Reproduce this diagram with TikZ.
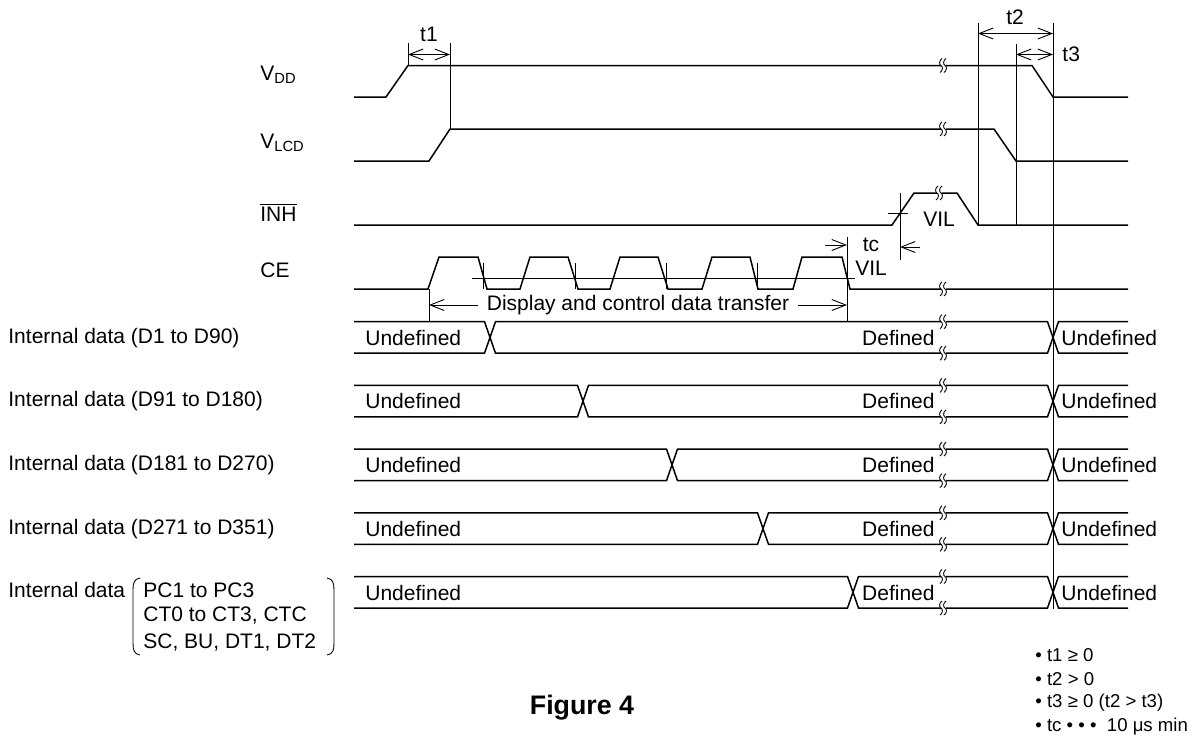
\documentclass[tikz,border=0pt]{standalone}
\usepackage{fontspec}
\setmainfont{Liberation Sans}
\usetikzlibrary{arrows.meta}
\tikzset{
    sig/.style={line width=0.75pt},
    dim/.style={line width=0.45pt},
    barb/.tip={Straight Barb[length=7pt,width=5.5pt]},
    dimarr/.style={dim, barb-barb},
    lbl/.style={inner sep=0pt, font=\fontsize{10.5}{12.6}\selectfont},
    note/.style={inner sep=0pt, anchor=west, font=\fontsize{9.3}{11}\selectfont},
    brk/.pic={
      \fill[white] (-2.5,-1.6) rectangle (2.5,1.6);
      \draw[dim] (-1,-7) .. controls (-4,-5) and (-4,-1) .. (-2,0) .. controls (0,1) and (0,5) .. (-3,7);
      \draw[dim] (3,-7) .. controls (0,-5) and (0,-1) .. (2,0) .. controls (4,1) and (4,5) .. (1,7);
    },
  }
\begin{document}
\begin{tikzpicture}[x=0.5pt,y=-0.5pt]
          %1 unit = 1 pixel of the original, y going down
          \useasboundingbox (0,0) rectangle (1194,740);
          %signal names
          \node[lbl, anchor=west] (vdd) at (260,75) {V\textsubscript{DD}};
          \node[lbl, anchor=west] (vlcd) at (260,143) {V\textsubscript{LCD}};
          \node[lbl, anchor=west] (inh) at (260,212) {$\overline{\hbox{INH}}$};
          \node[lbl, anchor=west] (ce) at (260,270) {CE};

          %VDD
          \draw[sig] (354,97) -- (386,97) -- (408,65.5) -- (1032,65.5) -- (1053,97) -- (1128,97);
          \pic at (943,65.5) {brk};
          %VLCD
          \draw[sig] (354,161) -- (429,161) -- (450,129) -- (994,129) -- (1016,161) -- (1128,161);
          \pic at (943,129) {brk};
          %INH
          \draw[sig] (354,225) -- (892,225) -- (914,193) -- (957,193) -- (978,225) -- (1128,225);
          \pic at (939,193) {brk};
          %CE
          \draw[sig] (354,289) -- (428,289) -- (439,257) -- (478,257) -- (487,289)
                     -- (520,289) -- (530,257) -- (568,257) -- (578,289)
                     -- (610,289) -- (620,257) -- (658,257) -- (668,289)
                     -- (702,289) -- (712,257) -- (750,257) -- (758,289)
                     -- (793,289) -- (802,257) -- (842,257) -- (850,289) -- (1128,289);
          \pic at (943,289) {brk};
          %VIL on CE
          \draw[dim] (472,278) -- (855,278);
          \draw[dim] (483,263) -- (483,289) (575,263) -- (575,289) (666,263) -- (666,289) (757,263) -- (757,289);

          %t1
          \coordinate (t1a) at (408,54.5);
          \coordinate (t1b) at (450,54.5);
          \draw[dim] (408,43) -- (408,65.5);
          \draw[dim] (450,43) -- (450,129);
          \draw[dimarr] (t1a) -- (t1b);
          \node[lbl] (t1) at (429,34) {t1};
          %t2, t3
          \coordinate (t2a) at (978,33.5);
          \coordinate (t2b) at (1053,33.5);
          \coordinate (t3a) at (1016,54.5);
          \coordinate (t3b) at (1053,54.5);
          \draw[dim] (978,23) -- (978,225);
          \draw[dim] (1016,44) -- (1016,225);
          \draw[dim] (1053,23) -- (1053,609);
          \draw[dimarr] (t2a) -- (t2b);
          \draw[dimarr] (t3a) -- (t3b);
          \node[lbl] (t2) at (1015,17) {t2};
          \node[lbl, anchor=west] (t3) at (1062,54) {t3};

          %tc and VIL on INH
          \draw[dim] (888,213) -- (908,213);
          \draw[dim] (900,193) -- (900,260);
          \node[lbl] (vilinh) at (939,219) {VIL};
          \draw[dim] (847,237) -- (847,322);
          \draw[dim, -barb] (825,245) -- (847,245);
          \draw[dim, -barb] (920,247) -- (900,247);
          \node[lbl] (tc) at (871,245) {tc};
          \node[lbl] (vilce) at (871,268) {VIL};

          %data transfer
          \draw[dim] (429,289) -- (429,322);
          \draw[dimarr] (429,305) -- node[lbl, fill=white, inner xsep=4.5pt] (xfer) {Display and control data transfer} (847,305);

          %internal data rows
          \foreach \cx/\name [count=\i] in {490/{Internal data (D1 to D90)}, 583/{Internal data (D91 to D180)},
                                            672/{Internal data (D181 to D270)}, 763/{Internal data (D271 to D351)}, 853/{}}{
            \pgfmathsetmacro{\yt}{321.7+(\i-1)*63.7}
            \pgfmathsetmacro{\yb}{\yt+31.5}
            \pgfmathsetmacro{\ym}{\yt+16}
            \draw[sig] (354,\yt) -- (\cx-5.5,\yt) -- (\cx+5.5,\yb) -- (1047.5,\yb) -- (1058.5,\yt) -- (1128,\yt);
            \draw[sig] (354,\yb) -- (\cx-5.5,\yb) -- (\cx+5.5,\yt) -- (1047.5,\yt) -- (1058.5,\yb) -- (1128,\yb);
            \pic at (943,\yt) {brk};
            \pic at (943,\yb) {brk};
            \node[lbl, anchor=west] (und\i) at (365,\ym) {Undefined};
            \node[lbl, anchor=east] (def\i) at (935,\ym) {Defined};
            \node[lbl, anchor=west] (undr\i) at (1061,\ym) {Undefined};
            \node[lbl, anchor=west] (name\i) at (8,\ym) {\name};
          }
          \node[lbl, anchor=west] (intdata) at (8,590) {Internal data};
          \node[lbl, anchor=west] (pc) at (143,590) {PC1 to PC3};
          \node[lbl, anchor=west] (ct) at (143,616) {CT0 to CT3, CTC};
          \node[lbl, anchor=west] (sc) at (143,642) {SC, BU, DT1, DT2};
          \draw[dim] (140,578) .. controls (134,579) and (133,583) .. (133,590) -- (133,643) .. controls (133,650) and (134,654) .. (140,655);
          \draw[dim] (327,578) .. controls (333,579) and (334,583) .. (334,590) -- (334,643) .. controls (334,650) and (333,654) .. (327,655);

          %notes
          \node[note] (n1) at (1035,655) {• t1 ≥ 0};
          \node[note] (n2) at (1035,679) {• t2 > 0};
          \node[note] (n3) at (1035,703) {• t3 ≥ 0 (t2 > t3)};
          \node[note] (n4) at (1035,727) {• tc • • •\ \ 10 μs min};
          \node[inner sep=0pt, font=\fontsize{13.4}{16}\selectfont\bfseries] (fig) at (582,708) {Figure 4};
\end{tikzpicture}
\end{document}
